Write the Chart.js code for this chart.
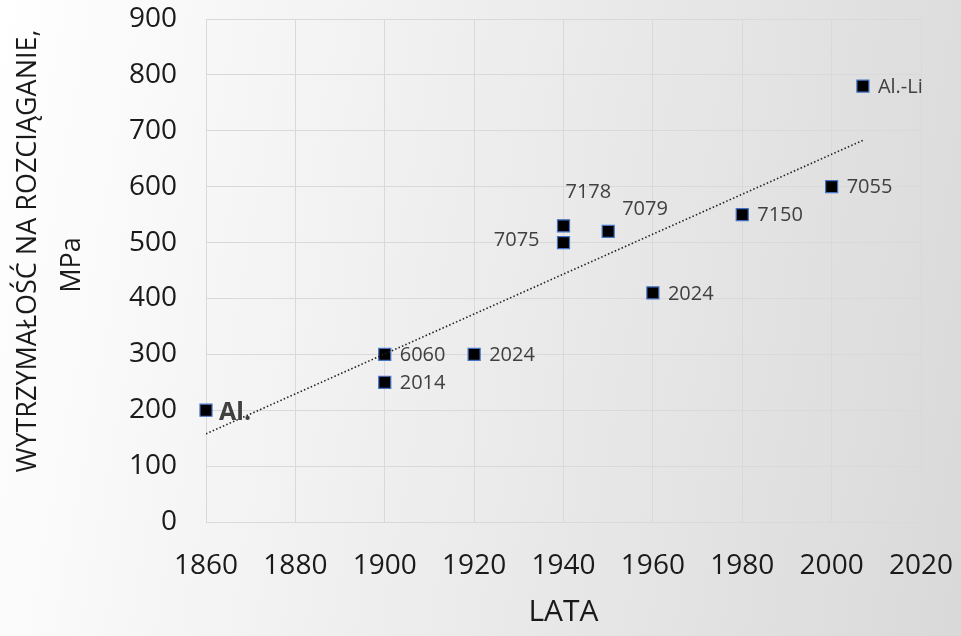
<!DOCTYPE html>
<html>
<head>
<meta charset="utf-8">
<script src="https://cdn.jsdelivr.net/npm/chart.js@4"></script>
<style>
  html, body { margin: 0; padding: 0; }
  body { width: 961px; height: 636px; background: linear-gradient(100deg, #ffffff 0%, #f0f0f0 40%, #d9d9d9 100%); }
  #wrap { width: 961px; height: 636px; }
</style>
</head>
<body>
<div id="wrap"><canvas id="chart"></canvas></div>
<script>
// Data
const years = [1860, 1900, 1900, 1920, 1940, 1940, 1950, 1960, 1980, 2000, 2007];
const strength = [200, 300, 250, 300, 530, 500, 520, 410, 550, 600, 780];
const names = ["Al.", "6060", "2014", "2024", "7178", "7075", "7079", "2024", "7150", "7055", "Al.-Li"];
const xTicks = [1860, 1880, 1900, 1920, 1940, 1960, 1980, 2000, 2020];
const yTicks = [0, 100, 200, 300, 400, 500, 600, 700, 800, 900];
const yTitle = ["WYTRZYMAŁOŚĆ NA ROZCIĄGANIE,", "MPa"];

// where each label sits relative to its marker
const labelPos = ["bold", "right", "right", "right", "above", "left", "above", "right", "right", "right", "right"];

// linear trend (least squares)
const n = years.length;
const mx = years.reduce((a, b) => a + b, 0) / n;
const my = strength.reduce((a, b) => a + b, 0) / n;
let sxy = 0, sxx = 0;
for (let i = 0; i < n; i++) {
  sxy += (years[i] - mx) * (strength[i] - my);
  sxx += (years[i] - mx) * (years[i] - mx);
}
const slope = sxy / sxx;
const x0 = Math.min(...years), x1 = Math.max(...years);
const trend = [
  { x: x0, y: my + slope * (x0 - mx) },
  { x: x1, y: my + slope * (x1 - mx) },
];

const FONT = "'Open Sans', sans-serif";

const pointLabels = {
  id: "pointLabels",
  afterDatasetsDraw(chart) {
    const meta = chart.getDatasetMeta(1);
    const ctx = chart.ctx;
    ctx.save();
    ctx.textBaseline = "middle";
    meta.data.forEach((pt, i) => {
      const pos = labelPos[i];
      ctx.fillStyle = "#404040";
      ctx.font = "20px " + FONT;
      ctx.textAlign = "left";
      let tx = pt.x + 15, ty = pt.y + 1;
      if (pos === "bold") {
        ctx.font = "bold 25px " + FONT;
        tx = pt.x + 13; ty = pt.y + 3;
      } else if (pos === "left") {
        ctx.textAlign = "right";
        tx = pt.x - 24; ty = pt.y - 2;
      } else if (pos === "above") {
        tx = pt.x + 2; ty = pt.y - 33;
        if (names[i] === "7079") { tx = pt.x + 14; ty = pt.y - 22; }
      }
      ctx.fillText(names[i], tx, ty);
    });
    ctx.restore();
  },
  afterDraw(chart) {
    // y axis title, two rotated lines
    const ctx = chart.ctx;
    ctx.save();
    ctx.fillStyle = "#1a1a1a";
    ctx.font = "27px " + FONT;
    ctx.textAlign = "center";
    ctx.textBaseline = "middle";
    const spots = [[28, 251], [72, 265]];
    yTitle.forEach((t, i) => {
      ctx.save();
      ctx.translate(spots[i][0], spots[i][1]);
      ctx.rotate(-Math.PI / 2);
      ctx.fillText(t, 0, 0);
      ctx.restore();
    });
    ctx.restore();
  },
};

new Chart(document.getElementById("chart"), {
  data: {
    datasets: [
      {
        type: "line",
        data: trend,
        borderColor: "#222222",
        borderWidth: 1.6,
        borderDash: [1.5, 2.2],
        pointRadius: 0,
        fill: false,
      },
      {
        type: "scatter",
        data: years.map((x, i) => ({ x: x, y: strength[i] })),
        clip: false,
        pointStyle: "rect",
        pointRadius: 8.5,
        pointHoverRadius: 8.5,
        backgroundColor: "#000000",
        borderColor: "#4472c4",
        borderWidth: 1.2,
      },
    ],
  },
  options: {
    responsive: true,
    maintainAspectRatio: false,
    animation: false,
    layout: { padding: { top: 19, right: 40, left: 0, bottom: 0 } },
    plugins: { legend: { display: false }, tooltip: { enabled: false } },
    scales: {
      x: {
        type: "linear",
        min: 1860,
        max: 2020,
        afterBuildTicks: (s) => { s.ticks = xTicks.map((v) => ({ value: v })); },
        afterFit: (s) => { s.height = 114; s.paddingLeft = 0; s.paddingRight = 0; },
        grid: { color: "#d9d9d9", lineWidth: 1, drawTicks: false },
        border: { color: "#d9d9d9" },
        ticks: {
          color: "#1a1a1a",
          font: { family: FONT, size: 28 },
          padding: 27,
          maxRotation: 0,
          callback: (v) => String(v),
        },
        title: { display: true, text: "LATA", color: "#1a1a1a", font: { family: FONT, size: 30 }, padding: { top: 0, bottom: 6 } },
      },
      y: {
        min: 0,
        max: 900,
        afterBuildTicks: (s) => { s.ticks = yTicks.map((v) => ({ value: v })); },
        afterFit: (s) => { s.width = 206; s.paddingTop = 0; s.paddingBottom = 0; },
        grid: { color: "#d9d9d9", lineWidth: 1, drawTicks: false },
        border: { color: "#d9d9d9" },
        ticks: { color: "#1a1a1a", font: { family: FONT, size: 28 }, padding: 29 },
        title: { display: false },
      },
    },
  },
  plugins: [pointLabels],
});
</script>
</body>
</html>
